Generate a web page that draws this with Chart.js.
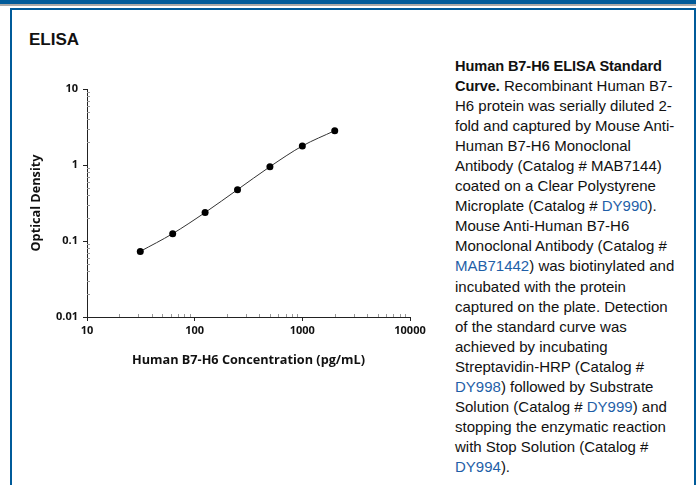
<!DOCTYPE html>
<html>
<head>
<meta charset="utf-8">
<script src="https://cdn.jsdelivr.net/npm/chart.js@4.4.1/dist/chart.umd.min.js"></script>
<style>
  html, body { margin: 0; padding: 0; background: #fff; width: 700px; height: 485px; overflow: hidden; }
  .topbar { position: absolute; left: 0; top: 0; width: 696px; height: 4px; background: #005b9a; }
  .greybar { position: absolute; left: 0; top: 4px; width: 696px; height: 2px; background: #a9a9a9; }
  .frame { position: absolute; left: 10px; top: 8px; width: 682px; height: 500px; border: 2px solid #005b9a; border-bottom: none; }
  .heading { position: absolute; left: 29px; top: 30px; font: bold 17px "Liberation Sans", Arial, sans-serif; color: #111; }
  .chartbox { position: absolute; left: 0; top: 0; width: 450px; height: 372px; }
  .caption { position: absolute; left: 455px; top: 56px; width: 240px; font-family: "Liberation Sans", Arial, sans-serif; font-size: 15px; line-height: 20.05px; color: #111; letter-spacing: 0; white-space: nowrap; }
  .caption b { font-size: 14.6px; letter-spacing: -0.1px; }
  .caption a { color: #1f5fa8; text-decoration: none; }
</style>
</head>
<body>
<div class="topbar"></div>
<div class="greybar"></div>
<div class="frame"></div>
<div class="heading">ELISA</div>
<div class="chartbox"><canvas id="elisaChart"></canvas></div>
<div class="caption">
<b>Human B7-H6 ELISA Standard<br>Curve.</b> Recombinant Human B7-<br>H6 protein was serially diluted 2-<br>fold and captured by Mouse Anti-<br>Human B7-H6 Monoclonal<br>Antibody (Catalog # MAB7144)<br>coated on a Clear Polystyrene<br>Microplate (Catalog # <a>DY990</a>).<br>Mouse Anti-Human B7-H6<br>Monoclonal Antibody (Catalog #<br><a>MAB71442</a>) was biotinylated and<br>incubated with the protein<br>captured on the plate. Detection<br>of the standard curve was<br>achieved by incubating<br>Streptavidin-HRP (Catalog #<br><a>DY998</a>) followed by Substrate<br>Solution (Catalog # <a>DY999</a>) and<br>stopping the enzymatic reaction<br>with Stop Solution (Catalog #<br><a>DY994</a>).
</div>
<script>
const concentrations = [31.25, 62.5, 125, 250, 500, 1000, 2000];
const opticalDensity = [0.073, 0.125, 0.237, 0.474, 0.95, 1.78, 2.83];
const xTicks = [10, 100, 1000, 10000];
const yTicks = [0.01, 0.1, 1, 10];

const tickFont = { family: '"Open Sans", sans-serif', size: 11, weight: 'bold' };
const titleFont = { family: '"Open Sans", sans-serif', size: 12.7, weight: 'bold' };

// small inner ticks between the decades
const minorTicks = {
    id: 'minorTicks',
    afterDraw(chart) {
        const ctx = chart.ctx;
        const xs = chart.scales.x, ys = chart.scales.y;
        ctx.save();
        ctx.strokeStyle = '#999';
        ctx.lineWidth = 1;
        ctx.beginPath();
        for (let d = 10; d < 10000; d *= 10) {
            for (let k = 2; k < 10; k++) {
                const px = Math.round(xs.getPixelForValue(d * k)) + 0.5;
                ctx.moveTo(px, ys.bottom);
                ctx.lineTo(px, ys.bottom - 3);
            }
        }
        for (let d = 0.01; d < 10; d *= 10) {
            for (let k = 2; k < 10; k++) {
                const py = Math.round(ys.getPixelForValue(d * k)) + 0.5;
                ctx.moveTo(xs.left, py);
                ctx.lineTo(xs.left + 3, py);
            }
        }
        ctx.stroke();
        ctx.restore();
    }
};

new Chart(document.getElementById('elisaChart'), {
    type: 'line',
    data: {
        datasets: [{
            data: concentrations.map((c, i) => ({ x: c, y: opticalDensity[i] })),
            borderColor: '#333',
            borderWidth: 1,
            cubicInterpolationMode: 'monotone',
            pointRadius: 3.5,
            pointBackgroundColor: '#000',
            pointBorderColor: '#000',
            pointBorderWidth: 0
        }]
    },
    options: {
        responsive: true,
        maintainAspectRatio: false,
        animation: false,
        layout: { padding: { top: 89, right: 40, left: 0, bottom: 0 } },
        plugins: { legend: { display: false }, tooltip: { enabled: false } },
        scales: {
            x: {
                type: 'logarithmic',
                min: 10, max: 10000,
                afterBuildTicks: s => { s.ticks = xTicks.map(v => ({ value: v })); },
                afterFit: s => { s.height = 55; },
                border: { display: true, color: '#222', width: 1 },
                grid: { drawOnChartArea: false, tickLength: 4, color: '#222' },
                ticks: { color: '#111', font: tickFont, padding: 3, maxRotation: 0, callback: v => String(v) },
                title: { display: true, text: 'Human B7-H6 Concentration (pg/mL)', color: '#111', font: titleFont, padding: { top: 8 } }
            },
            y: {
                type: 'logarithmic',
                min: 0.01, max: 10,
                afterBuildTicks: s => { s.ticks = yTicks.map(v => ({ value: v })); },
                afterFit: s => { s.width = 87; },
                border: { display: true, color: '#222', width: 1 },
                grid: { drawOnChartArea: false, tickLength: 4, color: '#222' },
                ticks: { color: '#111', font: tickFont, padding: 5, callback: v => String(v) },
                title: { display: true, text: 'Optical Density', color: '#111', font: titleFont, padding: { top: 29, bottom: 0 } }
            }
        }
    },
    plugins: [minorTicks]
});
</script>
</body>
</html>
